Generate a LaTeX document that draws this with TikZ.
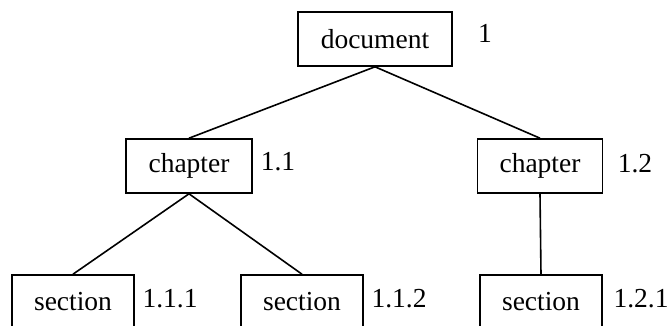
\documentclass[tikz,border=0pt]{standalone}
\usepackage{fontspec}
\setmainfont{Liberation Serif}
\usetikzlibrary{positioning}

\begin{document}
\begin{tikzpicture}[x=1pt,y=-1pt]
            \clip (0,0) rectangle (670,326);
            \begin{scope}[every node/.style = {rectangle, draw, line width=1.6pt,
                            minimum height=54pt, inner sep=0pt,
                            font=\fontsize{27.5}{32}\selectfont}]
                \node[minimum width=154pt] (doc) at (375, 39)  {document};
                \node[minimum width=126pt] (chA) at (189,166)  {chapter};
                \node[minimum width=125pt] (chB) at (540,166)  {chapter};
                \node[minimum width=122pt] (seA) at (73, 302)  {section};
                \node[minimum width=122pt] (seB) at (302,302)  {section};
                \node[minimum width=122pt] (seC) at (541,302)  {section};
            \end{scope}

            \begin{scope}[every node/.style={font=\fontsize{27.5}{32}\selectfont}]
                \node (ldoc) at (485, 33)  {1};
                \node (lchA) at (278,162)  {1.1};
                \node (lchB) at (635,164)  {1.2};
                \node (lseA) at (170,299)  {1.1.1};
                \node (lseB) at (399,299)  {1.1.2};
                \node (lseC) at (641,299)  {1.2.1};
            \end{scope}

            \begin{scope}[every path/.style={draw,line width=1.6pt}]
                \path (doc.south) -- (chA.north);
                \path (doc.south) -- (chB.north);
                \path (chA.south) -- (seA.north);
                \path (chA.south) -- (seB.north);
                \path (chB.south) -- (seC.north);
            \end{scope}
        \end{tikzpicture}
\end{document}
